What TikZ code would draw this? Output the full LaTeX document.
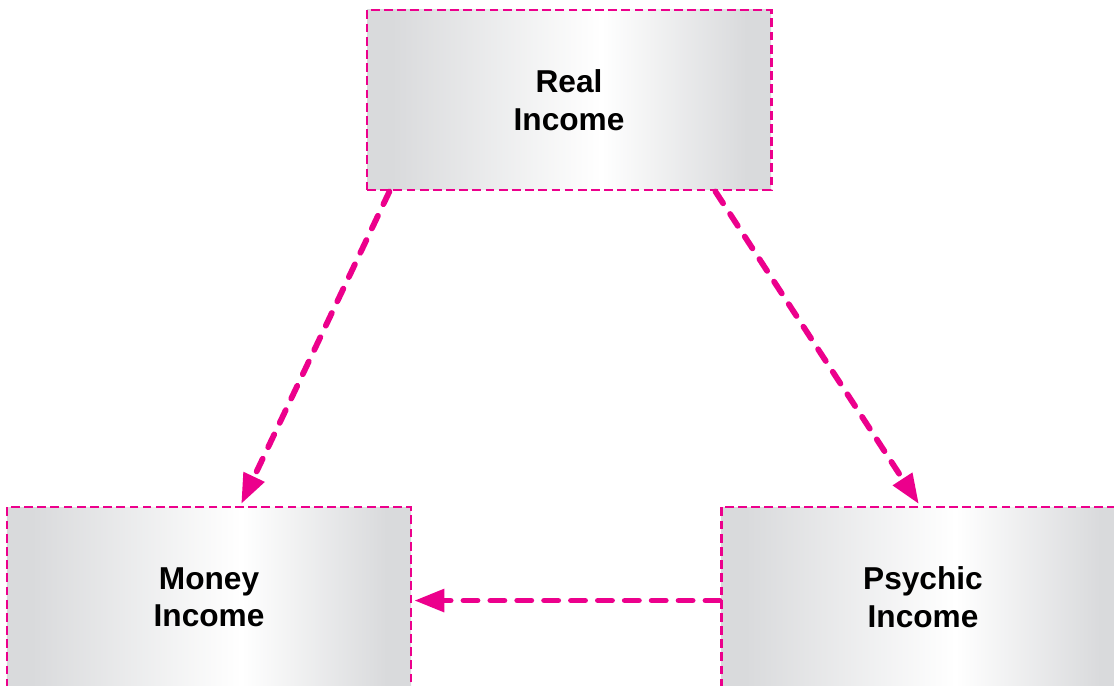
\documentclass[tikz,border=0pt]{standalone}
\usepackage{fontspec}
\setmainfont{Liberation Sans}
\usetikzlibrary{arrows.meta}
\definecolor{rosa}{HTML}{EC008C}
\definecolor{gris}{HTML}{D9DADC}
\pgfdeclarehorizontalshading{grisclaro}{100bp}{color(0bp)=(gris); color(28bp)=(gris); color(54bp)=(white); color(72bp)=(gris); color(100bp)=(gris)}

\begin{document}
\begin{tikzpicture}[
	caja/.style={draw=rosa, line width=1.7pt, dash pattern=on 5pt off 2.5pt, shading=grisclaro,
		minimum width=8.08cm, minimum height=3.6cm, inner sep=0pt, align=center,
		font=\fontsize{18}{21.3}\selectfont\bfseries},
	flecha/.style={rosa, line width=3.3pt, line cap=round, dash pattern=on 8pt off 7.3pt,
		-{Triangle[length=0.6cm, width=0.44cm]}, shorten >=1pt}]
			\useasboundingbox (0,0) rectangle (22.28,-13.72);

			% Cajas
			\node[caja] (real) at (11.38,-2.0) {Real\\Income};
			\node[caja] (money) at (4.18,-11.94) {Money\\Income};
			\node[caja] (psychic) at (18.46,-11.94) {Psychic\\Income};

			% Flechas
			\draw[flecha] (real.207) -- (money.71);
			\draw[flecha] (real.328.5) -- (psychic.92);
			\draw[flecha] (psychic.181) -- (money.east |- psychic.181);

		    \end{tikzpicture}
\end{document}
